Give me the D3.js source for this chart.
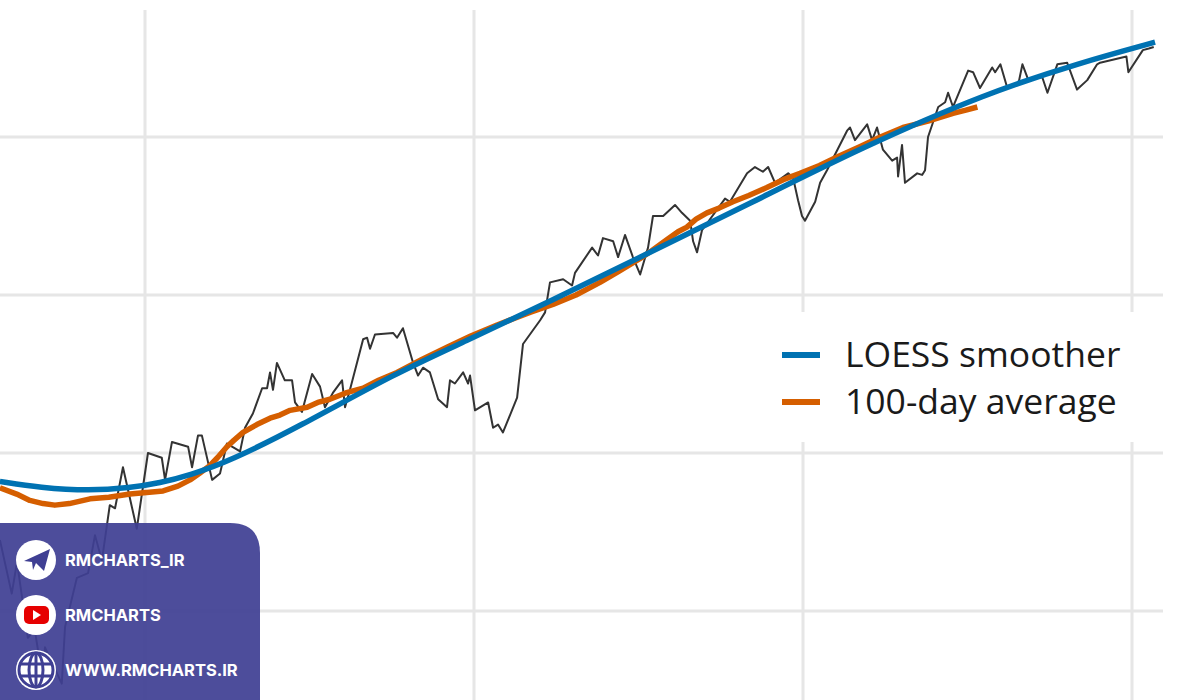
<!DOCTYPE html>
<html>
<head>
<meta charset="utf-8">
<script src="https://cdn.jsdelivr.net/npm/d3@7"></script>
<style>
  body { margin: 0; background: #fff; }
  svg { display: block; font-family: "Open Sans", "Noto Sans", sans-serif; }
</style>
</head>
<body>
<svg id="chart" width="1200" height="700"></svg>
<script>
// daily series, [day, value]
const priceSeries = [
  [55.9,14.5],[59.5,11.1],[61.1,13.1],[64.4,8.3],[66.5,8.8],[68.7,5.9],[69.6,7.7],[74.7,5.4],
  [75.7,9.0],[79.3,12.1],[82.7,12.4],[84.8,14.8],[86.9,13.2],[89.3,16.7],[90.9,16.5],[93.3,19.1],
  [97.5,15.2],[100.9,20.0],[105.1,19.7],[106.1,18.3],[108.2,20.7],[113.1,20.4],[114.3,19.1],[116.1,21.1],
  [117.3,21.1],[120.4,18.3],[122.8,18.7],[124.9,20.6],[128.9,20.1],[130.4,21.6],[132.8,22.5],[135.6,24.1],
  [137.1,24.1],[138.0,25.1],[138.9,24.0],[140.1,25.7],[142.5,24.6],[144.7,24.6],[145.6,23.2],[147.7,22.6],
  [150.8,25.0],[153.2,24.2],[154.7,22.9],[157.1,23.8],[159.9,24.6],[160.8,22.9],[162.3,24.0],[166.3,27.2],
  [167.5,27.3],[168.4,26.6],[169.9,27.5],[175.4,27.6],[176.6,27.3],[178.4,27.9],[181.5,25.7],[183.0,24.9],
  [184.5,25.4],[186.6,25.1],[189.1,23.4],[191.8,22.9],[192.7,24.6],[194.2,24.4],[196.7,25.1],[198.2,24.4],
  [198.8,24.9],[200.3,22.7],[204.3,23.2],[205.8,21.6],[207.3,21.8],[208.8,21.3],[213.1,23.5],[214.9,26.9],
  [220.1,28.4],[221.6,28.9],[223.1,30.8],[227.1,31.0],[229.8,30.6],[230.7,31.4],[235.9,33.0],[237.7,32.5],
  [239.2,33.6],[242.3,33.4],[243.8,32.4],[245.9,33.8],[248.3,32.4],[250.5,31.3],[252.9,33.0],[254.4,35.0],
  [257.5,35.0],[261.1,35.7],[263.2,35.2],[265.7,34.7],[266.6,33.4],[267.8,32.7],[269.3,34.1],[276.3,36.1],
  [277.8,35.9],[283.0,37.7],[285.4,38.1],[287.8,37.8],[289.4,38.1],[291.5,37.1],[295.5,37.7],[297.0,37.4],
  [298.5,36.0],[299.7,35.0],[300.6,34.7],[303.7,35.9],[305.2,37.1],[307.3,37.9],[313.4,40.4],[314.3,40.6],
  [315.8,39.8],[319.5,40.8],[321.0,39.8],[322.5,40.6],[324.3,39.2],[327.1,38.5],[328.6,38.7],[328.9,37.5],
  [330.1,39.5],[331.0,37.1],[334.7,37.7],[336.2,37.6],[337.1,37.9],[338.0,40.0],[341.1,41.9],[343.2,42.2],
  [344.1,42.8],[345.6,41.9],[350.2,44.2],[351.7,44.1],[353.8,43.1],[357.5,44.4],[358.4,44.1],[360.0,44.6],
  [362.1,43.1],[365.4,43.3],[366.7,44.6],[368.5,43.6],[372.7,43.8],[374.3,42.8],[377.3,44.6],[380.3,44.7],
  [383.3,43.0],[386.4,43.6],[389.4,44.6],[390.3,44.7],[398.3,45.1],[398.9,44.1],[403.3,45.5],[405.1,45.6],
  [406.6,45.7]
];
const loessSeries = [
  [55.9,18.2],[68.1,17.8],[83.3,17.6],[95.4,17.8],[104.5,18.1],[113.7,18.6],[125.8,19.5],[146.2,21.6],
  [176.6,25.1],[196.7,27.0],[223.1,29.6],[253.5,32.7],[284.0,35.8],[317.4,39.3],[356.0,42.8],[384.3,44.7],
  [407.0,46.0]
];
const avgSeries = [
  [55.9,17.8],[61.0,17.4],[65.0,17.0],[69.0,16.8],[72.6,16.7],[77.0,16.8],[83.3,17.1],[89.0,17.2],
  [95.4,17.4],[100.5,17.5],[105.5,17.6],[110.0,17.9],[113.7,18.3],[116.5,18.7],[119.7,19.2],[122.0,19.7],
  [124.9,20.4],[127.0,20.8],[129.8,21.3],[134.0,21.8],[138.0,22.2],[141.0,22.4],[144.1,22.7],[149.3,22.9],
  [152.5,23.2],[156.2,23.4],[161.0,23.8],[166.3,24.1],[171.0,24.6],[176.6,25.1],[184.0,25.9],[191.8,26.7],
  [199.0,27.4],[207.0,28.1],[212.0,28.5],[217.0,28.9],[224.0,29.4],[231.0,30.0],[238.3,30.8],[244.0,31.5],
  [250.4,32.3],[254.0,32.8],[258.6,33.5],[262.0,34.0],[264.7,34.3],[267.5,34.8],[270.8,35.2],[274.5,35.5],
  [278.7,35.9],[283.5,36.3],[289.0,36.8],[294.0,37.3],[299.1,37.7],[305.0,38.2],[311.0,38.8],[317.4,39.4],
  [323.5,40.0],[330.4,40.6],[338.0,41.0],[345.6,41.5],[349.5,41.7],[353.0,41.9]
];
const xTicks = [100, 200, 300, 400];
const yTicks = [10, 20, 30, 40];
const legendLabels = ["LOESS smoother", "100-day average"];
const legendColors = ["#0072B2", "#D55E00"];
const socialLabels = ["RMCHARTS_IR", "RMCHARTS", "WWW.RMCHARTS.IR"];

const svg = d3.select("#chart");
const x = d3.scaleLinear().domain([100, 400]).range([145, 1132]);
const y = d3.scaleLinear().domain([10, 40]).range([611, 137]);

// grid
const grid = svg.append("g").attr("stroke", "#e6e6e6").attr("stroke-width", 3);
grid.selectAll(".gx").data(xTicks).enter().append("line")
  .attr("x1", d => x(d)).attr("x2", d => x(d)).attr("y1", 10).attr("y2", 700);
grid.selectAll(".gy").data(yTicks).enter().append("line")
  .attr("x1", 0).attr("x2", 1163).attr("y1", d => y(d)).attr("y2", d => y(d));

const line = d3.line().x(d => x(d[0])).y(d => y(d[1]));

svg.append("path").datum(priceSeries)
  .attr("fill", "none").attr("stroke", "#333").attr("stroke-width", 2)
  .attr("stroke-linejoin", "round").attr("d", line);

svg.append("path").datum(avgSeries)
  .attr("fill", "none").attr("stroke", legendColors[1]).attr("stroke-width", 5.5)
  .attr("stroke-linejoin", "round").attr("d", line);

svg.append("path").datum(loessSeries)
  .attr("fill", "none").attr("stroke", legendColors[0]).attr("stroke-width", 5.5)
  .attr("d", line.curve(d3.curveBasis));

// legend
const legend = svg.append("g");
legend.append("rect").attr("x", 765).attr("y", 312).attr("width", 372).attr("height", 130).attr("fill", "#fff");
legendLabels.forEach((label, i) => {
  const ly = 355 + i * 47;
  legend.append("line").attr("x1", 782).attr("x2", 820).attr("y1", ly).attr("y2", ly)
    .attr("stroke", legendColors[i]).attr("stroke-width", 6);
  legend.append("text").attr("x", 845).attr("y", ly + 12).attr("font-size", 35.5)
    .attr("fill", "#1a1a1a").text(label);
});

// watermark
const wm = svg.append("g");
wm.append("path")
  .attr("d", "M0,523 H230 Q260,523 260,553 V700 H0 Z")
  .attr("fill", "#3f3f93").attr("opacity", 0.93);
socialLabels.forEach((label, i) => {
  const cy = 560 + i * 55;
  wm.append("circle").attr("cx", 36).attr("cy", cy).attr("r", 20).attr("fill", "#fff");
  wm.append("text").attr("x", 65).attr("y", cy + 6).attr("font-size", 16.5).attr("font-weight", 700)
    .attr("fill", "#fff").attr("font-family", "Inter, 'Open Sans', sans-serif").text(label);
  if (i === 0) {
    wm.append("path").attr("d", `M${24},${cy+1} L${50},${cy-11} L${44},${cy+11} L${36},${cy+3} L${33},${cy+10} L${32},${cy+2} Z`)
      .attr("fill", "#3f3f93");
  } else if (i === 1) {
    wm.append("rect").attr("x", 24).attr("y", cy - 9).attr("width", 25).attr("height", 18).attr("rx", 5).attr("fill", "#e60000");
    wm.append("path").attr("d", `M33,${cy-5} L41,${cy} L33,${cy+5} Z`).attr("fill", "#fff");
  } else {
    const gl = wm.append("g").attr("fill", "none").attr("stroke", "#3f3f93").attr("stroke-width", 3);
    gl.append("circle").attr("cx", 36).attr("cy", cy).attr("r", 17);
    gl.append("ellipse").attr("cx", 36).attr("cy", cy).attr("rx", 7).attr("ry", 17);
    gl.append("line").attr("x1", 19).attr("x2", 53).attr("y1", cy - 6).attr("y2", cy - 6);
    gl.append("line").attr("x1", 19).attr("x2", 53).attr("y1", cy + 6).attr("y2", cy + 6);
    gl.append("line").attr("x1", 36).attr("x2", 36).attr("y1", cy - 17).attr("y2", cy + 17);
  }
});
</script>
</body>
</html>
